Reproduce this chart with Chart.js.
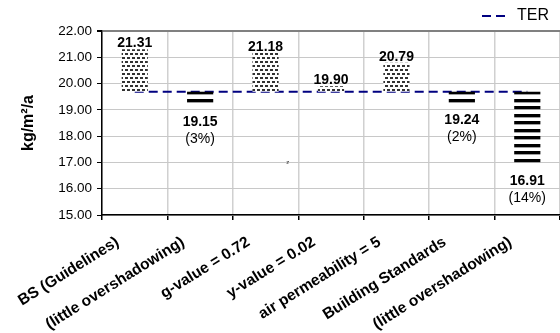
<!DOCTYPE html>
<html>
<head>
<meta charset="utf-8">
<script src="https://cdn.jsdelivr.net/npm/chart.js@4.4.1/dist/chart.umd.min.js"></script>
<style>
  html, body { margin: 0; padding: 0; background: #fff; overflow: hidden; }
  #wrap { width: 560px; height: 333px; }
</style>
</head>
<body>
<div id="wrap"><canvas id="c" width="560" height="333"></canvas></div>
<script>
// Emission rates (kg/m²/a) per design variant, against the target rate
const categories = [
  'BS (Guidelines)',
  '(little overshadowing)',
  'g-value = 0.72',
  'y-value = 0.02',
  'air permeability = 5',
  'Building Standards',
  '(little overshadowing)'
];
const emissionRates = [21.31, 19.15, 21.18, 19.90, 20.79, 19.24, 16.91];
const savingLabels = ['', '(3%)', '', '', '', '(2%)', '(14%)'];
const targetRate = 19.69;
const yTicks = [15, 16, 17, 18, 19, 20, 21, 22];

const FONT = "'Liberation Sans', Arial, sans-serif";
const TER_DASH = [9, 5];

// Fill patterns: dotted for rates above target, black bands for rates below
function makeDotPattern() {
  const c = document.createElement('canvas');
  c.width = 10; c.height = 8;
  const g = c.getContext('2d');
  g.fillStyle = '#ffffff'; g.fillRect(0, 0, 10, 8);
  g.fillStyle = '#333333';
  g.fillRect(0, 1, 3, 2); g.fillRect(5, 1, 3, 2);
  g.fillRect(2, 5, 3, 2); g.fillRect(7, 5, 3, 2);
  return g.createPattern(c, 'repeat');
}
function makeStripePattern() {
  const c = document.createElement('canvas');
  c.width = 8; c.height = 15;
  const g = c.getContext('2d');
  g.fillStyle = '#ffffff'; g.fillRect(0, 0, 8, 15);
  g.fillStyle = '#000000';
  g.fillRect(0, 0, 8, 3);
  g.fillRect(0, 8, 8, 3);
  g.fillStyle = '#a0a0a0';
  g.fillRect(0, 3, 8, 1);
  g.fillRect(0, 11, 8, 1);
  return g.createPattern(c, 'repeat');
}
const dotFill = makeDotPattern();
const stripeFill = makeStripePattern();

const floatingBars = emissionRates.map(v => [targetRate, v]);
const barFills = emissionRates.map(v => v >= targetRate ? dotFill : stripeFill);
const targetLine = categories.map(() => targetRate);

// Anchor the fill patterns on the target line and nudge the legend box
const layoutTweaks = {
  id: 'layoutTweaks',
  afterLayout(chart) {
    const lg = chart.legend;
    if (lg) { lg.right -= 7; lg.left -= 7; lg.top += 3; lg.bottom += 3; }
  },
  beforeDatasetsDraw(chart) {
    const y0 = Math.round(chart.scales.y.getPixelForValue(targetRate));
    stripeFill.setTransform(new DOMMatrix([1, 0, 0, 1, 0, y0 - 1]));
    dotFill.setTransform(new DOMMatrix([1, 0, 0, 1, 0, y0]));
  }
};

// Value and saving labels next to each bar end
const barLabels = {
  id: 'barLabels',
  afterDatasetsDraw(chart) {
    const meta = chart.getDatasetMeta(1);
    const ctx = chart.ctx;
    ctx.save();
    ctx.fillStyle = '#000';
    ctx.textAlign = 'center';
    ctx.textBaseline = 'alphabetic';
    meta.data.forEach((bar, i) => {
      const v = emissionRates[i];
      const top = Math.min(bar.y, bar.base);
      const bottom = Math.max(bar.y, bar.base);
      ctx.font = 'bold 14px ' + FONT;
      if (v >= targetRate) {
        ctx.fillText(v.toFixed(2), bar.x, top - 2);
      } else {
        ctx.fillText(v.toFixed(2), bar.x, bottom + 20);
        ctx.font = '14px ' + FONT;
        ctx.fillText(savingLabels[i], bar.x, bottom + 37);
      }
    });
    // small stray mark on the 17.00 grid line
    const xs = chart.scales.x, ys = chart.scales.y;
    ctx.font = '6px ' + FONT;
    ctx.fillStyle = '#333';
    ctx.textBaseline = 'middle';
    ctx.fillText('z', xs.getPixelForValue(2.34), ys.getPixelForValue(17));
    ctx.restore();
  }
};

new Chart(document.getElementById('c'), {
  data: {
    labels: categories,
    datasets: [
      {
        type: 'line',
        label: 'TER',
        data: targetLine,
        borderColor: '#000080',
        borderWidth: 2,
        borderDash: TER_DASH,
        pointRadius: 0,
        fill: false,
        order: 2
      },
      {
        type: 'bar',
        label: 'Emission rate',
        data: floatingBars,
        backgroundColor: barFills,
        borderWidth: 0,
        barPercentage: 0.4,
        categoryPercentage: 1.0,
        order: 1
      }
    ]
  },
  options: {
    responsive: false,
    animation: false,
    devicePixelRatio: 1,
    layout: { padding: { top: 1, right: 0, left: 0, bottom: 0 } },
    plugins: {
      tooltip: { enabled: false },
      legend: {
        display: true,
        position: 'top',
        align: 'end',
        labels: {
          filter: item => item.text === 'TER',
          generateLabels(chart) {
            const items = Chart.defaults.plugins.legend.labels.generateLabels(chart);
            items.forEach(it => {
              it.lineDash = TER_DASH;
              it.strokeStyle = '#000080';
              it.lineWidth = 2;
            });
            return items;
          },
          usePointStyle: true,
          pointStyle: 'line',
          pointStyleWidth: 27,
          padding: 4,
          color: '#000',
          font: { family: FONT, size: 16 }
        }
      }
    },
    scales: {
      x: {
        type: 'category',
        offset: true,
        grid: {
          offset: true,
          color: '#d0d0d0',
          lineWidth: 1.5,
          tickColor: '#000',
          tickLength: 5,
          drawTicks: true
        },
        border: { color: '#000', width: 1.5 },
        ticks: {
          autoSkip: false,
          minRotation: 32,
          maxRotation: 32,
          padding: 13,
          labelOffset: -17,
          color: '#000',
          font: { family: FONT, size: 15.5, weight: 'bold' }
        },
        afterFit(scale) { scale.height = 118; }
      },
      y: {
        min: 15,
        max: 22,
        afterBuildTicks(scale) { scale.ticks = yTicks.map(v => ({ value: v })); },
        grid: {
          color: ctx => ctx.tick && ctx.tick.value === 22 ? '#808080' : '#c8c8c8',
          lineWidth: ctx => ctx.tick && ctx.tick.value === 22 ? 2 : 1,
          tickColor: '#000',
          tickLength: 5
        },
        border: { color: '#000', width: 1.5 },
        ticks: {
          padding: 5,
          color: '#000',
          font: { family: FONT, size: 13.5 },
          callback: v => Number(v).toFixed(2)
        },
        title: {
          display: true,
          text: 'kg/m²/a',
          color: '#000',
          padding: { top: 19, bottom: 0 },
          font: { family: FONT, size: 16, weight: 'bold' }
        },
        afterFit(scale) { scale.width = 102; }
      }
    }
  },
  plugins: [layoutTweaks, barLabels]
});
</script>
</body>
</html>
